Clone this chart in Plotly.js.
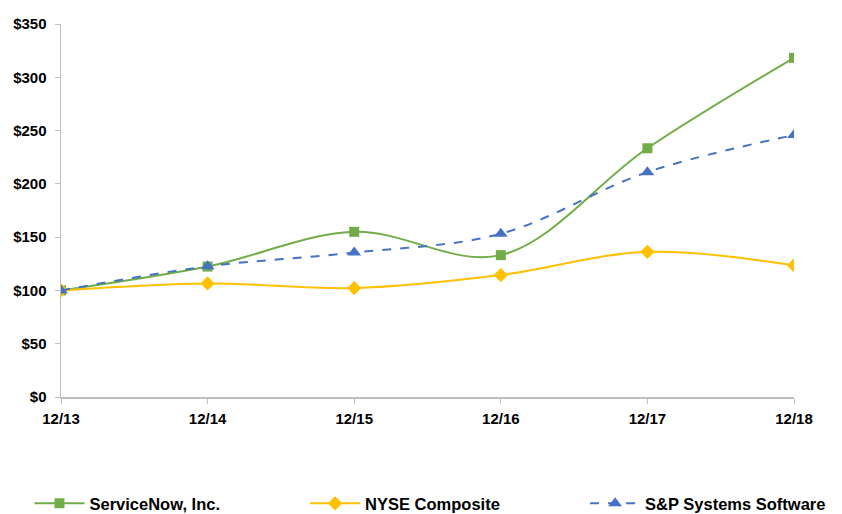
<!DOCTYPE html>
<html>
<head>
<meta charset="utf-8">
<script src="https://cdn.plot.ly/plotly-3.0.1.min.js"></script>
<style>
html,body{margin:0;padding:0;background:#fff;}
#chart{width:842px;height:514px;}
</style>
</head>
<body>
<div id="chart"></div>
<script>
const categories = ["12/13", "12/14", "12/15", "12/16", "12/17", "12/18"];
const serviceNow = [100, 122.4, 155.0, 133.1, 233.4, 318.2];
const nyseComposite = [100, 106.6, 102.2, 114.4, 136.2, 123.5];
const spSystemsSoftware = [100, 122.6, 135.5, 153.2, 211.0, 245.8];
const seriesNames = ["ServiceNow, Inc.", "NYSE Composite", "S&P Systems Software"];

const FONT = "Liberation Sans, Arial, sans-serif";

const traces = [
  {
    x: categories, y: serviceNow, name: seriesNames[0], type: "scatter", mode: "lines+markers",
    legend: "legend",
    line: {color: "#70AD47", width: 2, shape: "spline", smoothing: 1},
    marker: {symbol: "square", size: 10, color: "#70AD47"}
  },
  {
    x: categories, y: nyseComposite, name: seriesNames[1], type: "scatter", mode: "lines+markers",
    legend: "legend2",
    line: {color: "#FFC000", width: 2, shape: "spline", smoothing: 1},
    marker: {symbol: "diamond", size: 11, color: "#FFC000"}
  },
  {
    x: categories, y: spSystemsSoftware, name: seriesNames[2], type: "scatter", mode: "lines+markers",
    legend: "legend3",
    line: {color: "#4472C4", width: 2, dash: "dash", shape: "spline", smoothing: 1},
    marker: {symbol: "triangle-up", size: 12, color: "#4472C4"}
  }
];

function legendAt(x) {
  return {
    orientation: "h", x: x, xanchor: "left", y: -0.239, yanchor: "top",
    itemwidth: 50,
    font: {family: FONT, size: 16.5, weight: "bold", color: "#000"},
    bgcolor: "rgba(0,0,0,0)"
  };
}

const layout = {
  width: 842, height: 514,
  margin: {l: 61, r: 48, t: 24, b: 117, autoexpand: false},
  paper_bgcolor: "#fff", plot_bgcolor: "#fff",
  showlegend: true,
  font: {family: FONT, color: "#000"},
  xaxis: {
    type: "category", range: [0, 5],
    showgrid: false, zeroline: false,
    showline: true, linecolor: "#BFBFBF", linewidth: 1.5,
    ticks: "outside", ticklen: 5, tickcolor: "#BFBFBF", tickwidth: 1,
    ticklabelstandoff: 2,
    tickfont: {family: FONT, size: 15, weight: "bold", color: "#000"}
  },
  yaxis: {
    range: [0, 350], dtick: 50, tickprefix: "$",
    showgrid: false, zeroline: false,
    showline: true, linecolor: "#BFBFBF", linewidth: 1.5,
    ticks: "outside", ticklen: 5, tickcolor: "#BFBFBF", tickwidth: 1,
    ticklabelstandoff: 5,
    tickfont: {family: FONT, size: 15, weight: "bold", color: "#000"}
  },
  legend: legendAt(-0.043),
  legend2: legendAt(0.333),
  legend3: legendAt(0.715)
};

Plotly.newPlot("chart", traces, layout, {displayModeBar: false, staticPlot: true});
</script>
</body>
</html>
